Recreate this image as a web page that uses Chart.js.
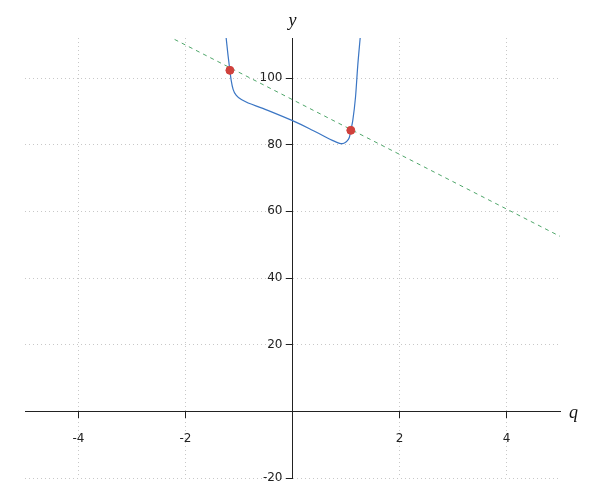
<!DOCTYPE html>
<html lang="en">
<head>
  <meta charset="UTF-8" />
  <title>Curve and secant</title>
  <script src="https://cdn.jsdelivr.net/npm/chart.js"></script>
  <style>
    html, body { margin: 0; padding: 0; background: #fff; }
    #wrap { width: 600px; height: 500px; }
  </style>
</head>
<body>
  <div id="wrap"><canvas id="chart" width="600" height="500"></canvas></div>
  <script>
    // curve samples
    const curveQ = [-1.24, -1.205, -1.17, -1.146, -1.11, -1.05, -0.93, -0.555, 0, 0.318, 0.69, 0.8, 0.88, 0.93, 1.0, 1.04, 1.065, 1.09, 1.127, 1.178, 1.22, 1.265];
    const curveY = [112, 106.8, 102.2, 99.3, 96.6, 94.8, 93.3, 90.9, 87.2, 84.8, 81.7, 80.9, 80.4, 80.3, 80.8, 81.5, 82.3, 84.3, 87.3, 94.3, 103.8, 112];

    // dashed straight line (end points)
    const lineQ = [-5, 5];
    const lineY = [134.5, 52.5];

    // marked points
    const markQ = [-1.17, 1.09];
    const markY = [102.3, 84.3];

    const xTicks = [-4, -2, 2, 4];
    const yTicks = [-20, 20, 40, 60, 80, 100];

    const toXY = (xs, ys) => xs.map((x, i) => ({ x: x, y: ys[i] }));

    const tickFont = { family: "'DejaVu Sans', sans-serif", size: 12 };

    // axis names + y tick labels (Chart.js puts centred y labels right on the axis)
    const axisText = {
      id: "axisText",
      afterDraw(chart) {
        const { ctx, chartArea, scales } = chart;
        const x0 = scales.x.getPixelForValue(0);
        const y0 = scales.y.getPixelForValue(0);
        ctx.save();
        ctx.fillStyle = "#222";
        ctx.font = "12px 'DejaVu Sans', sans-serif";
        ctx.textAlign = "right";
        ctx.textBaseline = "middle";
        yTicks.forEach(v => ctx.fillText(String(v), x0 - 10, scales.y.getPixelForValue(v)));

        ctx.fillStyle = "#111";
        ctx.font = "italic 18px 'Liberation Serif', 'DejaVu Serif', serif";
        ctx.textAlign = "center";
        ctx.textBaseline = "alphabetic";
        ctx.fillText("y", x0, chartArea.top - 12);
        ctx.textAlign = "left";
        ctx.textBaseline = "middle";
        ctx.fillText("q", chartArea.right + 9, y0 + 2);
        ctx.restore();
      }
    };

    new Chart(document.getElementById("chart"), {
      type: "scatter",
      data: {
        datasets: [
          {
            data: toXY(markQ, markY),
            backgroundColor: "#d0413c",
            borderColor: "#d0413c",
            pointRadius: 4,
            pointHoverRadius: 4
          },
          {
            data: toXY(lineQ, lineY),
            showLine: true,
            borderColor: "#4fa66a",
            borderWidth: 1,
            borderDash: [4, 4],
            pointRadius: 0
          },
          {
            data: toXY(curveQ, curveY),
            showLine: true,
            borderColor: "#3b76c4",
            borderWidth: 1.2,
            cubicInterpolationMode: "monotone",
            pointRadius: 0
          }
        ]
      },
      options: {
        responsive: false,
        animation: false,
        layout: { padding: { left: 25, right: 40, top: 38, bottom: 22 } },
        plugins: { legend: { display: false }, tooltip: { enabled: false } },
        scales: {
          x: {
            type: "linear",
            min: -5, max: 5,
            position: { y: 0 },
            afterBuildTicks: s => { s.ticks = xTicks.map(v => ({ value: v })); },
            grid: { color: "#c8c8c8", lineWidth: 1, tickColor: "#222", tickLength: 6 },
            border: { color: "#222", width: 1, dash: [1, 3] },
            ticks: { color: "#222", font: tickFont, padding: 14, maxRotation: 0 }
          },
          y: {
            type: "linear",
            min: -20, max: 112,
            position: { x: 0 },
            afterBuildTicks: s => { s.ticks = yTicks.map(v => ({ value: v })); },
            grid: { color: "#c8c8c8", lineWidth: 1, tickColor: "#222", tickLength: 6 },
            border: { color: "#222", width: 1, dash: [1, 3] },
            ticks: { display: false }
          }
        }
      },
      plugins: [axisText]
    });
  </script>
</body>
</html>
